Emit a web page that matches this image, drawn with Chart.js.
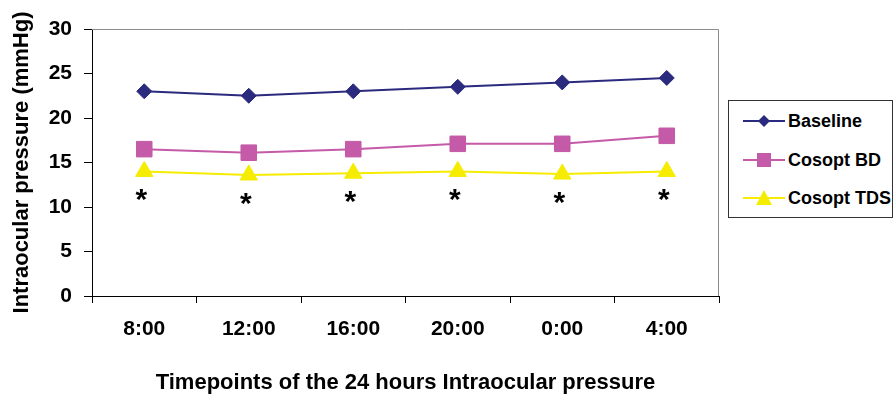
<!DOCTYPE html>
<html>
<head>
<meta charset="utf-8">
<script src="https://cdn.jsdelivr.net/npm/chart.js@4.4.1/dist/chart.umd.min.js"></script>
<style>
  html, body { margin: 0; padding: 0; background: #fff; }
  #wrap { position: relative; width: 895px; height: 399px; }
  #legend {
    position: absolute; left: 728px; top: 100px; width: 165px; height: 118px;
    border: 1px solid #333; box-sizing: border-box; background: #fff;
    font: bold 18px "Liberation Sans", Arial, sans-serif; color: #000;
  }
  .item { position: absolute; left: 14px; height: 22px; display: flex; align-items: center; white-space: nowrap; }
  .item svg { margin-right: 3px; }
</style>
</head>
<body>
<div id="wrap">
  <canvas id="chart" width="895" height="399"></canvas>
  <div id="legend"></div>
</div>
<script>
// time points of the 24 h curve
const categories = ["8:00", "12:00", "16:00", "20:00", "0:00", "4:00"];

// IOP (mmHg)
const baseline = [23.0, 22.5, 23.0, 23.5, 24.0, 24.5];
const cosoptBD = [16.5, 16.1, 16.5, 17.1, 17.1, 18.0];
const cosoptTDS = [14.0, 13.6, 13.8, 14.0, 13.7, 14.0];

// significant difference marks (*) under Cosopt TDS
const significant = [true, true, true, true, true, true];

const yTicks = [0, 5, 10, 15, 20, 25, 30];

const seriesNames = ["Baseline", "Cosopt BD", "Cosopt TDS"];
const colors = ["#2a2a7e", "#c45aa8", "#f5ec00"];

Chart.defaults.font.family = '"Liberation Sans", Arial, sans-serif';
Chart.defaults.color = "#000";

const axisFont = { size: 21, weight: "bold" };
const titleFont = { size: 22, weight: "bold" };

// gray frame on top / right of the plot
const plotFrame = {
  id: "plotFrame",
  beforeDatasetsDraw(chart) {
    const { ctx, chartArea: a } = chart;
    ctx.save();
    ctx.strokeStyle = "#8c8c8c";
    ctx.lineWidth = 1;
    ctx.beginPath();
    ctx.moveTo(a.left, a.top + 0.5);
    ctx.lineTo(a.right - 0.5, a.top + 0.5);
    ctx.lineTo(a.right - 0.5, a.bottom);
    ctx.stroke();
    ctx.restore();
  }
};

// asterisks below the Cosopt TDS points
const asterisks = {
  id: "asterisks",
  afterDatasetsDraw(chart) {
    const { ctx } = chart;
    const meta = chart.getDatasetMeta(2);
    ctx.save();
    ctx.fillStyle = "#000";
    ctx.font = 'bold 30px "Liberation Sans", Arial, sans-serif';
    ctx.textAlign = "center";
    ctx.textBaseline = "alphabetic";
    meta.data.forEach((p, i) => {
      if (significant[i]) ctx.fillText("*", p.x - 3, p.y + 38);
    });
    ctx.restore();
  }
};

const ctx = document.getElementById("chart").getContext("2d");
const chart = new Chart(ctx, {
  type: "line",
  data: {
    labels: categories,
    datasets: [
      {
        label: seriesNames[0],
        data: baseline,
        borderColor: colors[0],
        backgroundColor: colors[0],
        borderWidth: 2,
        pointStyle: "rectRot",
        pointRadius: 7.5,
        pointBorderWidth: 1,
        tension: 0
      },
      {
        label: seriesNames[1],
        data: cosoptBD,
        borderColor: colors[1],
        backgroundColor: colors[1],
        borderWidth: 2,
        pointStyle: "rect",
        pointRadius: 11,
        pointBorderWidth: 1,
        tension: 0
      },
      {
        label: seriesNames[2],
        data: cosoptTDS,
        borderColor: colors[2],
        backgroundColor: colors[2],
        borderWidth: 2,
        pointStyle: "triangle",
        pointRadius: 10,
        pointBorderWidth: 1,
        tension: 0
      }
    ]
  },
  options: {
    responsive: false,
    animation: false,
    layout: { padding: { top: 29, right: 176, bottom: 0, left: 0 } },
    plugins: {
      legend: { display: false },
      tooltip: { enabled: false }
    },
    scales: {
      x: {
        type: "category",
        offset: true,
        grid: { offset: true, drawOnChartArea: false, drawTicks: true, tickLength: 7, color: "#000" },
        border: { color: "#000", width: 1 },
        ticks: { color: "#000", font: axisFont, padding: 14, maxRotation: 0 },
        title: {
          display: true,
          text: "Timepoints of the 24 hours Intraocular pressure",
          color: "#000",
          font: titleFont,
          padding: { top: 0, bottom: 3 }
        },
        afterFit(scale) { scale.height = 103; }
      },
      y: {
        min: 0,
        max: 30,
        afterBuildTicks(scale) { scale.ticks = yTicks.map(v => ({ value: v })); },
        grid: { drawOnChartArea: false, drawTicks: true, tickLength: 8, color: "#000" },
        border: { color: "#000", width: 1 },
        ticks: { color: "#000", font: axisFont, padding: 12 },
        title: {
          display: true,
          text: "Intraocular pressure (mmHg)",
          color: "#000",
          font: titleFont,
          padding: { top: 9, bottom: 0 }
        },
        afterFit(scale) { scale.width = 92; }
      }
    }
  },
  plugins: [plotFrame, asterisks]
});

// legend: line sample with marker, then the series name
function markerSvg(i) {
  const c = colors[i];
  let shape;
  if (i === 0) shape = `<polygon points="21,4 27,10 21,16 15,10" fill="${c}"/>`;
  else if (i === 1) shape = `<rect x="14" y="3" width="14" height="14" fill="${c}"/>`;
  else shape = `<polygon points="21,2 29,17 13,17" fill="${c}"/>`;
  return `<svg width="42" height="20" viewBox="0 0 42 20"><line x1="0" y1="10" x2="42" y2="10" stroke="${c}" stroke-width="2"/>${shape}</svg>`;
}
const legendTops = [9, 48, 86];
document.getElementById("legend").innerHTML = seriesNames.map((name, i) =>
  `<div class="item" style="top:${legendTops[i]}px">${markerSvg(i)}<span>${name}</span></div>`
).join("");
</script>
</body>
</html>
